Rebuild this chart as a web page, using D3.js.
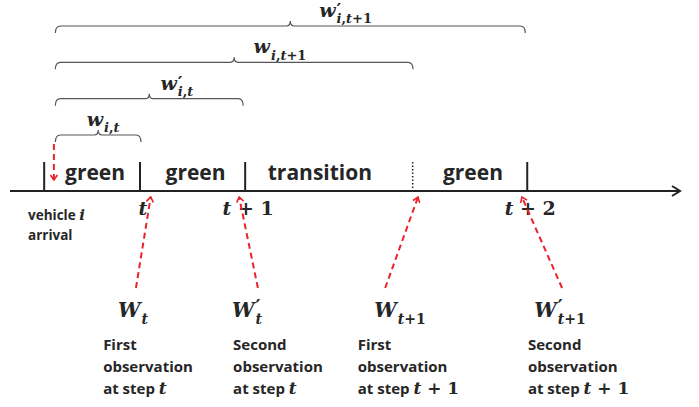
<!DOCTYPE html>
<html>
<head>
<meta charset="utf-8"/>
<script src="https://cdn.jsdelivr.net/npm/d3@7"></script>
<style>
html, body { margin: 0; padding: 0; background: #fff; }
svg text { white-space: pre; }
.sans { font-family: "Open Sans", sans-serif; font-weight: 700; fill: #262626; }
.math { font-family: "DejaVu Serif", serif; font-weight: 700; font-style: italic; fill: #262626; }
.brace { fill: none; stroke: #555; stroke-width: 1.2; }
.axis-line { stroke: #222; stroke-width: 2; fill: none; }
.obs { stroke: #e8232b; stroke-width: 2; stroke-dasharray: 6,4; fill: none; }
</style>
</head>
<body>
<svg id="fig" width="699" height="407"></svg>
<script>
// ---- data (time along the axis, arbitrary units 0..100) ----
var boundaryTimes  = [5.1, 19.4, 35.1, 60.1, 77.2];
var boundaryDotted = [false, false, false, true, false];
var phaseNames     = ["green", "green", "transition", "green"];

var tickTimes  = [19.4, 35.1, 77.2];
var tickLabels = ["t", "t + 1", "t + 2"];

var arrivalTime = 6.7;
var arrivalText = ["vehicle ", "i", "arrival"];

// waiting time braces (all start at the arrival)
var braceEnds       = [19.55, 34.8, 60.15, 76.9];
var braceLabelTimes = [13.9, 24.9, 40.3, 50.1];
var braceBases      = ["w", "w", "w", "w"];
var bracePrimes     = [false, true, false, true];
var braceSubs       = ["i,t", "i,t", "i,t+1", "i,t+1"];

// observations
var obsBases      = ["W", "W", "W", "W"];
var obsPrimes     = [false, true, false, true];
var obsSubs       = ["t", "t", "t+1", "t+1"];
var obsHeadTimes  = [21.0, 34.2, 60.9, 76.4];
var obsTailTimes  = [18.8, 37.0, 56.0, 82.4];
var obsLabelTimes = [18.4, 35.4, 58.2, 82.1];
var obsNoteTimes  = [13.9, 33.3, 51.9, 77.3];
var obsOrdinals   = ["First", "Second", "First", "Second"];
var obsSteps      = ["t", "t", "t + 1", "t + 1"];

// ---- layout ----
var svg = d3.select("#fig");
var x = d3.scaleLinear().domain([0, 100]).range([10, 680]);
var axisY = 191, tickTop = 162;
var braceY = d3.scalePoint().domain([0, 1, 2, 3]).range([135, 26]);

var defs = svg.append("defs");
defs.append("marker").attr("id", "redhead")
    .attr("viewBox", "-7 -5 8 10").attr("markerWidth", 8).attr("markerHeight", 10)
    .attr("markerUnits", "userSpaceOnUse").attr("orient", "auto")
  .append("path").attr("d", "M-5,-3.5L0,0L-5,3.5")
    .attr("fill", "none").attr("stroke", "#e8232b").attr("stroke-width", 1.6);

// write a math string: letters italic, digits and signs upright
function mathSpans(t, str) {
  str.split(/([A-Za-z]+)/).forEach(function(tok) {
    if (!tok) return;
    var s = t.append("tspan").text(tok);
    if (!/[A-Za-z]/.test(tok)) s.style("font-style", "normal");
  });
  return t;
}

// base letter with optional prime stacked over the subscript, one text element
function mathLabel(cx, y, base, prime, sub, size, subSize) {
  var t = svg.append("text").attr("class", "math").attr("y", y);
  var b = t.append("tspan").attr("font-size", size).text(base);
  var w = b.node().getComputedTextLength();
  if (prime) {
    t.append("tspan").attr("x", w + 1).attr("y", y - size * (base === "W" ? 0.2 : 0.05))
      .attr("font-family", "DejaVu Sans").attr("font-size", size * 0.95)
      .style("font-style", "normal").text("\u2032");
  }
  var s = t.append("tspan").attr("x", w + 1).attr("y", y + size * 0.33).attr("font-size", subSize);
  mathSpans(s, sub);
  var bb = t.node().getBBox();
  t.attr("transform", "translate(" + (cx - bb.x - bb.width / 2) + ",0)");
}

// ---- timeline ----
svg.append("line").attr("class", "axis-line")
    .attr("x1", x(0)).attr("x2", x(100) - 1).attr("y1", axisY).attr("y2", axisY);
svg.append("path").attr("class", "axis-line")
    .attr("d", "M" + (x(100) - 8) + "," + (axisY - 5) + "L" + x(100) + "," + axisY + "L" + (x(100) - 8) + "," + (axisY + 5))
    .attr("stroke-width", 1.8);

svg.selectAll(".bound").data(boundaryTimes).enter().append("line")
    .attr("x1", function(d) { return x(d); }).attr("x2", function(d) { return x(d); })
    .attr("y1", tickTop).attr("y2", axisY)
    .attr("stroke", "#222")
    .attr("stroke-width", function(d, i) { return boundaryDotted[i] ? 1.5 : 2; })
    .attr("stroke-dasharray", function(d, i) { return boundaryDotted[i] ? "1.5,2" : null; });

svg.selectAll(".phase").data(phaseNames).enter().append("text")
    .attr("class", "sans").attr("font-size", 21).attr("text-anchor", "middle")
    .attr("x", function(d, i) { return (x(boundaryTimes[i]) + x(boundaryTimes[i + 1])) / 2 + (d === "transition" ? -9 : 3); })
    .attr("y", 180)
    .text(function(d) { return d; });

tickTimes.forEach(function(t, i) {
  var txt = svg.append("text").attr("class", "math").attr("font-size", 19)
      .attr("text-anchor", "middle").attr("x", x(t) + 3).attr("y", 215);
  mathSpans(txt, tickLabels[i]);
});

var arr = svg.append("text").attr("class", "sans").attr("font-size", 13.5).attr("x", 28).attr("y", 220);
arr.append("tspan").text(arrivalText[0]);
arr.append("tspan").attr("class", "math").attr("font-size", 15).text(arrivalText[1]);
svg.append("text").attr("class", "sans").attr("font-size", 13.5).attr("x", 28).attr("y", 240).text(arrivalText[2]);

svg.append("line").attr("class", "obs")
    .attr("x1", x(arrivalTime) - 1).attr("x2", x(arrivalTime) - 1)
    .attr("y1", 144).attr("y2", 180).attr("marker-end", "url(#redhead)");

// ---- braces ----
braceEnds.forEach(function(e, i) {
  var x0 = x(arrivalTime) + 0.5, x1 = x(e), y = braceY(i), m = (x0 + x1) / 2;
  svg.append("path").attr("class", "brace")
      .attr("d", "M" + x0 + "," + (y + 7) + "Q" + x0 + "," + y + " " + (x0 + 5) + "," + y +
                 "L" + (m - 4) + "," + y + "Q" + m + "," + y + " " + m + "," + (y - 5) +
                 "Q" + m + "," + y + " " + (m + 4) + "," + y +
                 "L" + (x1 - 5) + "," + y + "Q" + x1 + "," + y + " " + x1 + "," + (y + 7));
  mathLabel(x(braceLabelTimes[i]), y - 9, braceBases[i], bracePrimes[i], braceSubs[i], 19, 13);
});

// ---- observations ----
obsHeadTimes.forEach(function(h, i) {
  svg.append("line").attr("class", "obs")
      .attr("x1", x(obsTailTimes[i])).attr("y1", 288)
      .attr("x2", x(h)).attr("y2", 197)
      .attr("marker-end", "url(#redhead)");
  mathLabel(x(obsLabelTimes[i]), 317, obsBases[i], obsPrimes[i], obsSubs[i], 20, 14);
  var nx = x(obsNoteTimes[i]);
  svg.append("text").attr("class", "sans").attr("font-size", 15).attr("x", nx).attr("y", 350).text(obsOrdinals[i]);
  svg.append("text").attr("class", "sans").attr("font-size", 15).attr("x", nx).attr("y", 372).text("observation");
  var st = svg.append("text").attr("class", "sans").attr("font-size", 15).attr("x", nx).attr("y", 394);
  st.append("tspan").text("at step ");
  mathSpans(st.append("tspan").attr("class", "math").attr("font-size", 17), obsSteps[i]);
});
</script>
</body>
</html>
